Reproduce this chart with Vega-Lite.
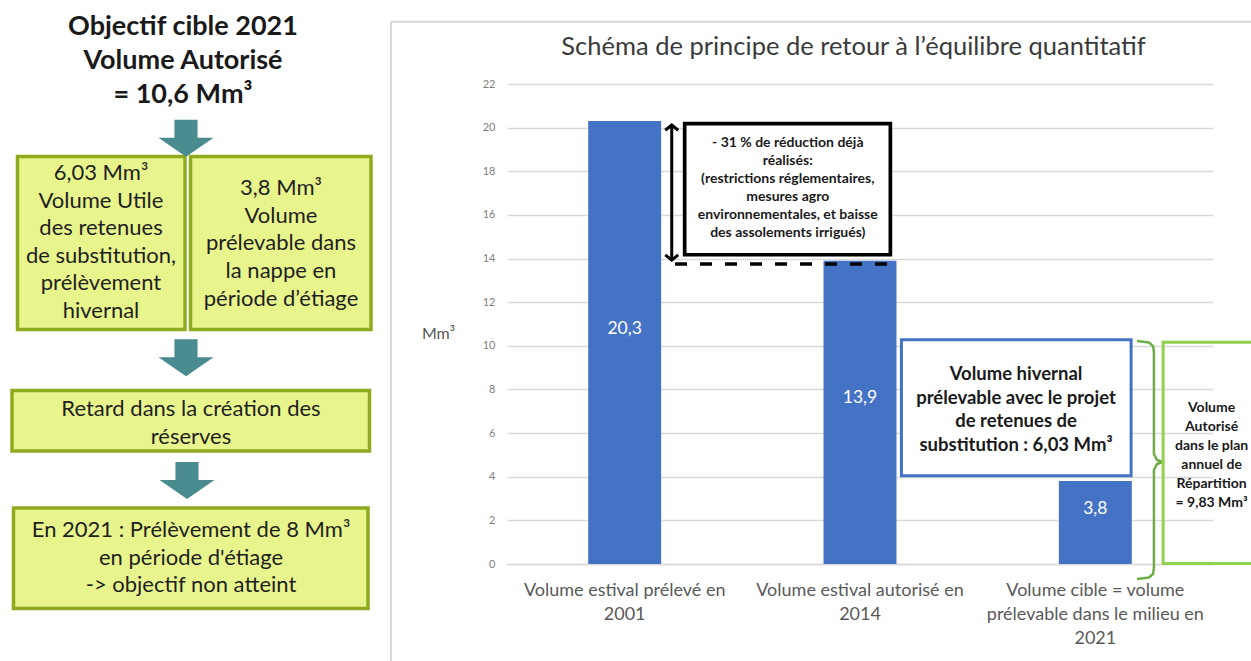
{
  "$schema": "https://vega.github.io/schema/vega-lite/v6.json",
  "padding": 0,
  "background": "white",
  "bounds": "flush",
  "center": true,
  "spacing": 127,
  "config": {
    "view": {"stroke": null},
    "font": "Lato",
    "locale": {"number": {"decimal": ",", "thousands": " ", "grouping": [3], "currency": ["", " €"]}}
  },
  "datasets": {
    "flowBoxes": [
      {"box": "A", "x1": 1.75, "x2": 18.5, "y1": 15.65, "y2": 32.95},
      {"box": "B", "x1": 19.05, "x2": 37.1, "y1": 15.65, "y2": 32.95},
      {"box": "C", "x1": 1.2, "x2": 36.95, "y1": 39.05, "y2": 45.1},
      {"box": "D", "x1": 1.35, "x2": 36.8, "y1": 50.8, "y2": 60.85}
    ],
    "flowArrows": [
      {"step": 1, "x": 18.6, "y": 13.83},
      {"step": 2, "x": 18.6, "y": 35.78},
      {"step": 3, "x": 18.7, "y": 48.05}
    ],
    "flowText": [
      {"box": "A", "x": 10.1, "y": 17.3, "t": "6,03 Mm³\nVolume Utile\ndes retenues\nde substitution,\nprélèvement\nhivernal"},
      {"box": "B", "x": 28.1, "y": 18.83, "t": "3,8 Mm³\nVolume\nprélevable dans\nla nappe en\npériode d’étiage"},
      {"box": "C", "x": 19.1, "y": 40.9, "t": "Retard dans la création des\nréserves"},
      {"box": "D", "x": 19.1, "y": 53.0, "t": "En 2021 : Prélèvement de 8 Mm³\nen période d'étiage\n-> objectif non atteint"}
    ],
    "bars": [
      {"cat": "Volume estival prélevé en 2001", "v": 20.3},
      {"cat": "Volume estival autorisé en 2014", "v": 13.9},
      {"cat": "Volume cible = volume prélevable dans le milieu en 2021", "v": 3.8}
    ],
    "brace": [
      {"i": 1, "u": 2.677, "v": 10.22},
      {"i": 2, "u": 2.728, "v": 10.15},
      {"i": 3, "u": 2.745, "v": 9.99},
      {"i": 4, "u": 2.749, "v": 9.716},
      {"i": 5, "u": 2.749, "v": 5.041},
      {"i": 6, "u": 2.762, "v": 4.766},
      {"i": 7, "u": 2.788, "v": 4.675},
      {"i": 8, "u": 2.762, "v": 4.583},
      {"i": 9, "u": 2.749, "v": 4.308},
      {"i": 10, "u": 2.749, "v": -0.183},
      {"i": 11, "u": 2.745, "v": -0.458},
      {"i": 12, "u": 2.728, "v": -0.619},
      {"i": 13, "u": 2.677, "v": -0.687}
    ]
  },
  "hconcat": [
    {
      "width": 380,
      "height": 648,
      "layer": [
        {
          "data": {"name": "flowBoxes"},
          "mark": {"type": "rect", "fill": "#E8F58C", "stroke": "#8EAA1E", "strokeWidth": 3.5},
          "encoding": {
            "x": {"field": "x1", "type": "quantitative", "scale": {"domain": [0, 38], "nice": false}, "axis": null},
            "x2": {"field": "x2"},
            "y": {"field": "y1", "type": "quantitative", "scale": {"domain": [0, 64.8], "nice": false, "reverse": true}, "axis": null},
            "y2": {"field": "y2"}
          }
        },
        {
          "data": {"name": "flowArrows"},
          "mark": {"type": "point", "shape": "M-0.42,-0.673L0.42,-0.673L0.42,-0.017L1,-0.017L0,0.673L-1,-0.017L-0.42,-0.017Z", "size": 3025, "filled": true, "color": "#4A8B8F", "opacity": 1, "strokeWidth": 0},
          "encoding": {
            "x": {"field": "x", "type": "quantitative", "scale": {"domain": [0, 38], "nice": false}, "axis": null},
            "y": {"field": "y", "type": "quantitative", "scale": {"domain": [0, 64.8], "nice": false, "reverse": true}, "axis": null}
          }
        },
        {
          "data": {"values": [{"x": 18.3, "y": 2.67, "t": "Objectif cible 2021\nVolume Autorisé\n= 10,6 Mm³"}]},
          "mark": {"type": "text", "lineBreak": "\n", "fontSize": 27, "fontWeight": "bold", "lineHeight": 34, "align": "center", "baseline": "middle", "color": "#1A1A1A"},
          "encoding": {
            "x": {"field": "x", "type": "quantitative", "scale": {"domain": [0, 38], "nice": false}, "axis": null},
            "y": {"field": "y", "type": "quantitative", "scale": {"domain": [0, 64.8], "nice": false, "reverse": true}, "axis": null},
            "text": {"field": "t"}
          }
        },
        {
          "data": {"name": "flowText"},
          "mark": {"type": "text", "lineBreak": "\n", "fontSize": 22, "lineHeight": 27.6, "align": "center", "baseline": "middle", "color": "#1F1F1F"},
          "encoding": {
            "x": {"field": "x", "type": "quantitative", "scale": {"domain": [0, 38], "nice": false}, "axis": null},
            "y": {"field": "y", "type": "quantitative", "scale": {"domain": [0, 64.8], "nice": false, "reverse": true}, "axis": null},
            "text": {"field": "t"}
          }
        }
      ]
    },
    {
      "width": 706,
      "height": 480,
      "resolve": {"scale": {"x": "independent"}, "axis": {"x": "independent"}},
      "layer": [
        {
          "data": {"name": "bars"},
          "mark": {"type": "bar", "color": "#4472C4"},
          "encoding": {
            "x": {
              "field": "cat", "type": "nominal", "sort": null,
              "scale": {"paddingInner": 0.69, "paddingOuter": 0.345},
              "axis": {
                "title": null, "labelAngle": 0, "ticks": false, "domain": true, "domainColor": "#D9D9D9", "domainWidth": 1.3,
                "labelFontSize": 18, "labelColor": "#595959", "labelLineHeight": 24, "labelPadding": 17, "labelLimit": 400,
                "labelOverlap": false, "labelBound": false, "labelBaseline": "top",
                "labelExpr": "datum.value == 'Volume estival prélevé en 2001' ? ['Volume estival prélevé en', '2001'] : datum.value == 'Volume estival autorisé en 2014' ? ['Volume estival autorisé en', '2014'] : ['Volume cible = volume', 'prélevable dans le milieu en', '2021']"
              }
            },
            "y": {
              "field": "v", "type": "quantitative",
              "scale": {"domain": [0, 22], "nice": false},
              "axis": {
                "title": "Mm³", "values": [0, 2, 4, 6, 8, 10, 12, 14, 16, 18, 20, 22],
                "domain": false, "ticks": false, "grid": true, "gridColor": "#D9D9D9", "gridWidth": 1.3,
                "labelFontSize": 11, "labelColor": "#7F7F7F", "labelPadding": 12,
                "titleAngle": 0, "titleX": -69, "titleY": 249, "titleAlign": "center", "titleBaseline": "middle",
                "titleFontSize": 16, "titleFontWeight": "normal", "titleColor": "#595959"
              }
            }
          }
        },
        {
          "data": {"values": [{"u1": -0.493, "u2": 3.3, "v1": 24.85, "v2": -5}]},
          "mark": {"type": "rect", "fill": "white", "fillOpacity": 0, "stroke": "#D9D9D9", "strokeWidth": 2},
          "encoding": {
            "x": {"field": "u1", "type": "quantitative", "scale": {"domain": [0, 3], "nice": false}, "axis": null},
            "x2": {"field": "u2"},
            "y": {"field": "v1", "type": "quantitative", "scale": {"domain": [0, 22], "nice": false}},
            "y2": {"field": "v2"}
          }
        },
        {
          "data": {"name": "bars"},
          "transform": [{"calculate": "datum.v / 2", "as": "mid"}],
          "mark": {"type": "text", "color": "white", "fontSize": 17.5, "dy": -14, "align": "center", "baseline": "middle"},
          "encoding": {
            "x": {"field": "cat", "type": "nominal", "sort": null, "scale": {"paddingInner": 0.69, "paddingOuter": 0.345}, "axis": null},
            "y": {"field": "mid", "type": "quantitative", "scale": {"domain": [0, 22], "nice": false}},
            "text": {"field": "v", "type": "quantitative", "format": ".1f"}
          }
        },
        {
          "data": {"values": [{"u1": 0.755, "u2": 1.629, "v1": 20.18, "v2": 14.175}]},
          "mark": {"type": "rect", "fill": "white", "stroke": "black", "strokeWidth": 3.7},
          "encoding": {
            "x": {"field": "u1", "type": "quantitative", "scale": {"domain": [0, 3], "nice": false}, "axis": null},
            "x2": {"field": "u2"},
            "y": {"field": "v1", "type": "quantitative", "scale": {"domain": [0, 22], "nice": false}},
            "y2": {"field": "v2"}
          }
        },
        {
          "data": {"values": [{"u": 0.7, "v1": 20.05, "v2": 14.0}]},
          "mark": {"type": "rule", "color": "black", "strokeWidth": 3},
          "encoding": {
            "x": {"field": "u", "type": "quantitative", "scale": {"domain": [0, 3], "nice": false}, "axis": null},
            "y": {"field": "v1", "type": "quantitative", "scale": {"domain": [0, 22], "nice": false}},
            "y2": {"field": "v2"}
          }
        },
        {
          "data": {"values": [{"end": "haut", "u": 0.7, "v": 20.12}, {"end": "bas", "u": 0.7, "v": 13.93}]},
          "mark": {"type": "point", "filled": false, "color": "black", "strokeWidth": 3, "opacity": 1, "size": 169},
          "encoding": {
            "x": {"field": "u", "type": "quantitative", "scale": {"domain": [0, 3], "nice": false}, "axis": null},
            "y": {"field": "v", "type": "quantitative", "scale": {"domain": [0, 22], "nice": false}},
            "shape": {"field": "end", "type": "nominal", "scale": {"domain": ["haut", "bas"], "range": ["M-1,0.8L0,0L1,0.8", "M-1,-0.8L0,0L1,-0.8"]}, "legend": null}
          }
        },
        {
          "data": {"values": [{"u1": 0.714, "u2": 1.65, "v": 13.75}]},
          "mark": {"type": "rule", "color": "black", "strokeWidth": 3.5, "strokeDash": [12, 13]},
          "encoding": {
            "x": {"field": "u1", "type": "quantitative", "scale": {"domain": [0, 3], "nice": false}, "axis": null},
            "x2": {"field": "u2"},
            "y": {"field": "v", "type": "quantitative", "scale": {"domain": [0, 22], "nice": false}}
          }
        },
        {
          "data": {"values": [{"u1": 1.676, "u2": 2.652, "v1": 10.275, "v2": 4.042}]},
          "mark": {"type": "rect", "fill": "white", "stroke": "#4472C4", "strokeWidth": 3},
          "encoding": {
            "x": {"field": "u1", "type": "quantitative", "scale": {"domain": [0, 3], "nice": false}, "axis": null},
            "x2": {"field": "u2"},
            "y": {"field": "v1", "type": "quantitative", "scale": {"domain": [0, 22], "nice": false}},
            "y2": {"field": "v2"}
          }
        },
        {
          "data": {"values": [{"u": 2.163, "v": 8.708, "t": "Volume hivernal\nprélevable avec le projet\nde retenues de\nsubstitution : 6,03 Mm³"}]},
          "mark": {"type": "text", "lineBreak": "\n", "fontSize": 18.5, "fontWeight": "bold", "lineHeight": 23.7, "align": "center", "baseline": "middle", "color": "#1A1A1A"},
          "encoding": {
            "x": {"field": "u", "type": "quantitative", "scale": {"domain": [0, 3], "nice": false}, "axis": null},
            "y": {"field": "v", "type": "quantitative", "scale": {"domain": [0, 22], "nice": false}},
            "text": {"field": "t"}
          }
        },
        {
          "data": {"name": "brace"},
          "mark": {"type": "line", "color": "#70AD47", "strokeWidth": 2.5, "strokeJoin": "round"},
          "encoding": {
            "x": {"field": "u", "type": "quantitative", "scale": {"domain": [0, 3], "nice": false}, "axis": null},
            "y": {"field": "v", "type": "quantitative", "scale": {"domain": [0, 22], "nice": false}},
            "order": {"field": "i", "type": "quantitative"}
          }
        },
        {
          "data": {"values": [{"u1": 2.788, "u2": 3.3, "v1": 10.165, "v2": 0.023}]},
          "mark": {"type": "rect", "fill": "white", "fillOpacity": 0, "stroke": "#92D050", "strokeWidth": 3},
          "encoding": {
            "x": {"field": "u1", "type": "quantitative", "scale": {"domain": [0, 3], "nice": false}, "axis": null},
            "x2": {"field": "u2"},
            "y": {"field": "v1", "type": "quantitative", "scale": {"domain": [0, 22], "nice": false}},
            "y2": {"field": "v2"}
          }
        },
        {
          "data": {"values": [{"u": 2.994, "v": 7.136, "t": "Volume\nAutorisé\ndans le plan\nannuel de\nRépartition\n= 9,83 Mm³"}]},
          "mark": {"type": "text", "lineBreak": "\n", "fontSize": 14, "fontWeight": "bold", "lineHeight": 18.9, "align": "center", "baseline": "middle", "color": "#1A1A1A"},
          "encoding": {
            "x": {"field": "u", "type": "quantitative", "scale": {"domain": [0, 3], "nice": false}, "axis": null},
            "y": {"field": "v", "type": "quantitative", "scale": {"domain": [0, 22], "nice": false}},
            "text": {"field": "t"}
          }
        },
        {
          "data": {"values": [{"u": 1.193, "v": 19.28, "t": "- 31 % de réduction déjà\nréalisés:\n(restrictions réglementaires,\nmesures agro\nenvironnementales, et baisse\ndes assolements irrigués)"}]},
          "mark": {"type": "text", "lineBreak": "\n", "fontSize": 14, "fontWeight": "bold", "lineHeight": 18, "align": "center", "baseline": "middle", "color": "#1A1A1A"},
          "encoding": {
            "x": {"field": "u", "type": "quantitative", "scale": {"domain": [0, 3], "nice": false}, "axis": null},
            "y": {"field": "v", "type": "quantitative", "scale": {"domain": [0, 22], "nice": false}},
            "text": {"field": "t"}
          }
        },
        {
          "data": {"values": [{"u": 1.4725, "v": 23.69, "t": "Schéma de principe de retour à l’équilibre quantitatif"}]},
          "mark": {"type": "text", "fontSize": 25.5, "align": "center", "baseline": "middle", "color": "#3A3A3A"},
          "encoding": {
            "x": {"field": "u", "type": "quantitative", "scale": {"domain": [0, 3], "nice": false}, "axis": null},
            "y": {"field": "v", "type": "quantitative", "scale": {"domain": [0, 22], "nice": false}},
            "text": {"field": "t"}
          }
        }
      ]
    }
  ]
}
